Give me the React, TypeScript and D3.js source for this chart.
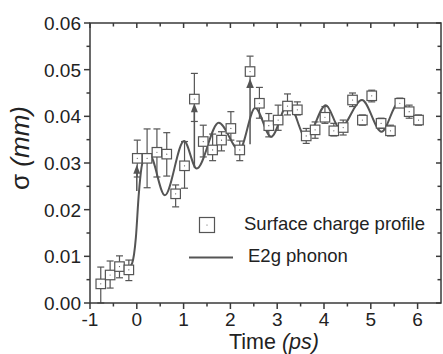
import React from "react";
import * as d3 from "d3";

// Measured surface charge density vs. pump-probe delay
const times = [-0.77, -0.57, -0.37, -0.17, 0.01, 0.22, 0.43, 0.64, 0.83, 1.02, 1.23, 1.42, 1.62, 1.81, 2.01, 2.2, 2.42, 2.62, 2.82, 3.02, 3.22, 3.43, 3.62, 3.81, 4.02, 4.21, 4.41, 4.61, 4.82, 5.02, 5.22, 5.42, 5.62, 5.82, 6.02];
const sigma = [0.0041, 0.006, 0.0078, 0.0071, 0.031, 0.031, 0.0323, 0.0319, 0.0234, 0.0294, 0.0437, 0.0346, 0.0328, 0.0349, 0.0374, 0.0328, 0.0496, 0.0428, 0.038, 0.0392, 0.0422, 0.0414, 0.0358, 0.0371, 0.0398, 0.0369, 0.0376, 0.0435, 0.0392, 0.0444, 0.0385, 0.0369, 0.0428, 0.041, 0.0392];
const sigmaHigh = [0.0077, 0.009, 0.0101, 0.0092, 0.0349, 0.0373, 0.0373, 0.0365, 0.0253, 0.0346, 0.0492, 0.0381, 0.0362, 0.0367, 0.041, 0.0347, 0.0529, 0.0462, 0.0406, 0.0424, 0.0448, 0.0431, 0.0374, 0.0388, 0.0421, 0.0385, 0.0392, 0.045, 0.0403, 0.0456, 0.0396, 0.0381, 0.0439, 0.0424, 0.0403];
const sigmaLow = [0.0, 0.0032, 0.0054, 0.0048, 0.027, 0.0247, 0.027, 0.0272, 0.0206, 0.0246, 0.0389, 0.0313, 0.0305, 0.0326, 0.0349, 0.0305, 0.0462, 0.0396, 0.0356, 0.037, 0.0403, 0.0403, 0.0342, 0.0353, 0.0385, 0.0358, 0.036, 0.0421, 0.0381, 0.0431, 0.0374, 0.0358, 0.042, 0.0396, 0.0381];

// E2g phonon model curve (extrema and onset)
const phononT = [-0.2, -0.1, -0.02, 0.04, 0.1, 0.17, 0.27, 0.6, 1.01, 1.28, 1.75, 2.19, 2.53, 2.87, 3.24, 3.62, 4.04, 4.34, 4.81, 5.23, 5.59, 6.0];
const phononV = [0.0072, 0.0085, 0.014, 0.023, 0.029, 0.0313, 0.0318, 0.0231, 0.0347, 0.0288, 0.0386, 0.0328, 0.0418, 0.0356, 0.0428, 0.0353, 0.0424, 0.0374, 0.0435, 0.0367, 0.0428, 0.0388];

// Kick arrows from the model curve up to the spiking points
const arrowT = [0.0, 1.23, 2.42];
const arrowFrom = [0.024, 0.029, 0.034];
const arrowTo = [0.0296, 0.0428, 0.0481];

const yTicks = [0, 0.01, 0.02, 0.03, 0.04, 0.05, 0.06];
const xTicks = [-1, 0, 1, 2, 3, 4, 5, 6];

const W = 443, H = 354;
const L = 90, R = 441, T = 23, B = 303;
const INK = "#3a3a3a";
const GREY = "#555";
const FONT = "'Liberation Sans', Arial, Helvetica, sans-serif";

export default function App() {
  const x = d3.scaleLinear().domain([-1, 6.5]).range([L, R]);
  const y = d3.scaleLinear().domain([0, 0.06]).range([B, T]);

  const majorX = xTicks;
  const minorX = d3.range(-0.5, 6.5, 1);
  const majorY = yTicks;
  const minorY = d3.range(0.005, 0.06, 0.01);

  const line = d3
    .line<number>()
    .x((_, i) => x(phononT[i]))
    .y((d) => y(d))
    .curve(d3.curveMonotoneX);

  const sq = 9.5;
  const cap = 3.5;

  return (
    <svg width={W} height={H} style={{ position: "absolute", left: 0, top: 0, background: "#fff" }} fontFamily={FONT}>
      {/* model curve */}
      <path d={line(phononV) || ""} fill="none" stroke={GREY} strokeWidth={2} />

      {/* arrows */}
      {arrowT.map((t, i) => {
        const ax = x(t);
        const y0 = y(arrowFrom[i]);
        const y1 = y(arrowTo[i]);
        return (
          <g key={"a" + i}>
            <line x1={ax} x2={ax} y1={y0} y2={y1 + 6} stroke={GREY} strokeWidth={1.5} />
            <path d={`M${ax},${y1} L${ax - 3.5},${y1 + 9} L${ax + 3.5},${y1 + 9} Z`} fill={GREY} />
          </g>
        );
      })}

      {/* error bars and markers */}
      {times.map((t, i) => {
        const cx = x(t);
        const cy = y(sigma[i]);
        const yh = y(sigmaHigh[i]);
        const yl = y(sigmaLow[i]);
        return (
          <g key={"p" + i} stroke={GREY} strokeWidth={1.2}>
            {yh < cy - sq / 2 && <line x1={cx} x2={cx} y1={cy - sq / 2} y2={yh} />}
            {yl > cy + sq / 2 && <line x1={cx} x2={cx} y1={cy + sq / 2} y2={yl} />}
            <line x1={cx - cap} x2={cx + cap} y1={yh} y2={yh} />
            <line x1={cx - cap} x2={cx + cap} y1={yl} y2={yl} />
            <rect x={cx - sq / 2} y={cy - sq / 2} width={sq} height={sq} fill="#fff" />
            <circle cx={cx} cy={cy} r={0.6} fill={GREY} stroke="none" />
          </g>
        );
      })}

      {/* frame */}
      <rect x={L} y={T} width={R - L} height={B - T} fill="none" stroke={INK} strokeWidth={1.5} />

      {/* bottom axis: outward ticks; top: inward */}
      {majorX.map((v) => (
        <g key={"xm" + v} stroke={INK} strokeWidth={1.5}>
          <line x1={x(v)} x2={x(v)} y1={B} y2={B + 6} />
          <line x1={x(v)} x2={x(v)} y1={T} y2={T + 5} />
        </g>
      ))}
      {minorX.map((v) => (
        <g key={"xn" + v} stroke={INK} strokeWidth={1.5}>
          <line x1={x(v)} x2={x(v)} y1={B} y2={B + 3.5} />
          <line x1={x(v)} x2={x(v)} y1={T} y2={T + 3.5} />
        </g>
      ))}
      {majorX.map((v) => (
        <text key={"xl" + v} x={x(v)} y={325.5} textAnchor="middle" fontSize={19} fill="#222">
          {v}
        </text>
      ))}

      {/* left axis: outward ticks; right: inward */}
      {majorY.map((v) => (
        <g key={"ym" + v} stroke={INK} strokeWidth={1.5}>
          <line x1={L - 6} x2={L} y1={y(v)} y2={y(v)} />
          <line x1={R - 5} x2={R} y1={y(v)} y2={y(v)} />
        </g>
      ))}
      {minorY.map((v) => (
        <g key={"yn" + v} stroke={INK} strokeWidth={1.5}>
          <line x1={L - 3.5} x2={L} y1={y(v)} y2={y(v)} />
          <line x1={R - 3.5} x2={R} y1={y(v)} y2={y(v)} />
        </g>
      ))}
      {majorY.map((v) => (
        <text key={"yl" + v} x={L - 9} y={y(v)} dy="0.36em" textAnchor="end" fontSize={19} fill="#222">
          {d3.format(".2f")(v)}
        </text>
      ))}

      {/* axis titles */}
      <text x={274} y={349} textAnchor="middle" fontSize={21.5} fill="#222">
        Time <tspan fontStyle="italic">(ps)</tspan>
      </text>
      <text transform="translate(29,148) rotate(-90)" textAnchor="middle" fontSize={26} fill="#222">
        σ <tspan fontStyle="italic">(mm)</tspan>
      </text>

      {/* legend */}
      <g stroke={GREY} strokeWidth={1.2}>
        <rect x={207 - 7.5} y={225 - 7.5} width={15} height={15} fill="#fff" />
        <circle cx={207} cy={225} r={0.6} fill={GREY} stroke="none" />
      </g>
      <text x={244} y={230} fontSize={18.5} fill="#222">
        Surface charge profile
      </text>
      <line x1={189} x2={233} y1={257.5} y2={257.5} stroke={GREY} strokeWidth={2} />
      <text x={248} y={262} fontSize={18.5} fill="#222">
        E2g phonon
      </text>
    </svg>
  );
}
